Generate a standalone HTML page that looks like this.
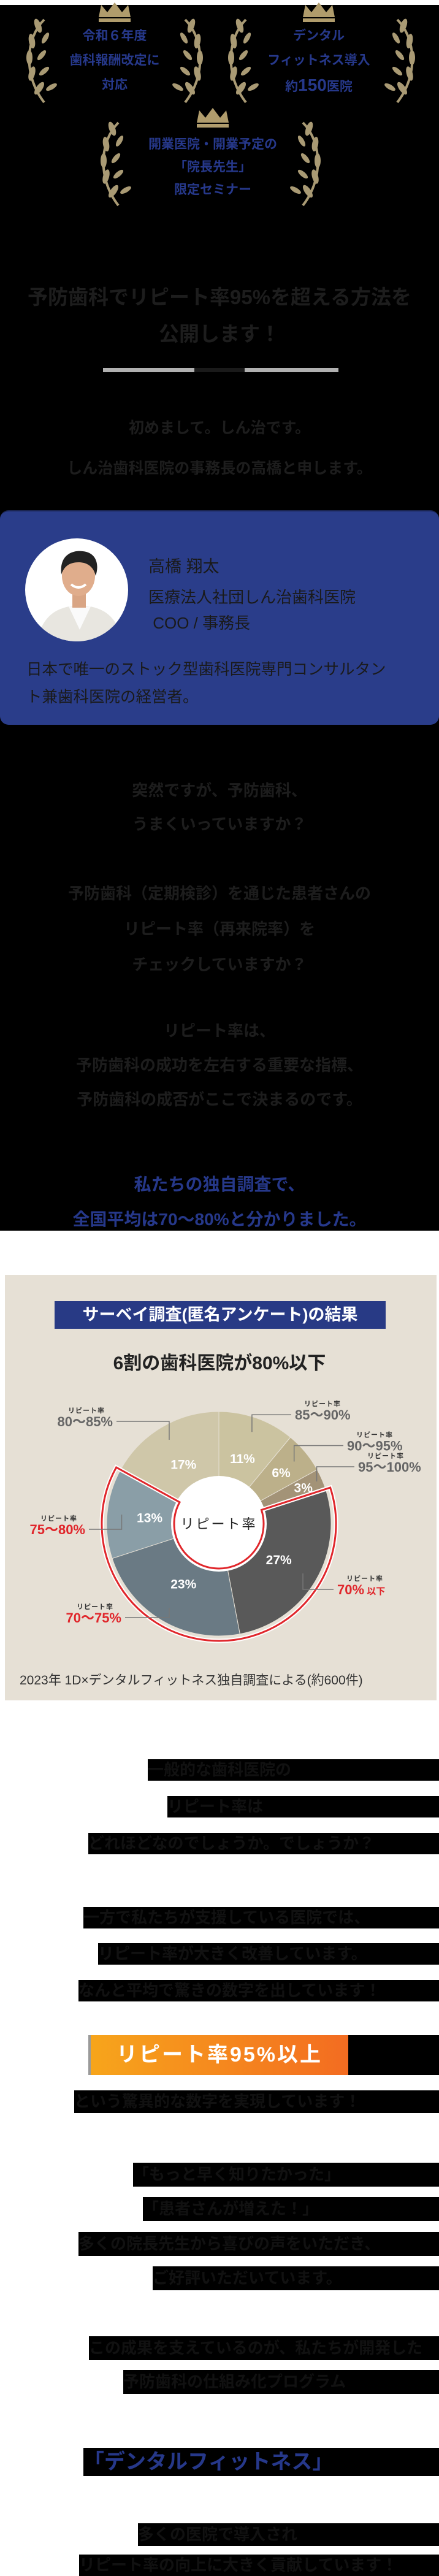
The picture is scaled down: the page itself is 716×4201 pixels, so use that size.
<!DOCTYPE html>
<html lang="ja">
<head>
<meta charset="utf-8">
<style>
html,body{margin:0;padding:0;}
body{width:716px;height:4201px;position:relative;background:#000;overflow:hidden;
font-family:"Liberation Sans","Noto Sans CJK JP",sans-serif;}
.abs{position:absolute;}
.c{position:absolute;left:0;width:716px;text-align:center;white-space:nowrap;}
.dk{color:#1d1d1d;font-weight:bold;}
.badge{position:absolute;color:#26388a;font-weight:bold;text-align:center;white-space:nowrap;font-size:21px;line-height:40px;}
.bar{position:absolute;right:0;background:#000;color:#111;font-weight:bold;font-size:26px;white-space:nowrap;overflow:hidden;}
</style>
</head>
<body>
<div class="abs" style="left:0;top:0;width:716px;height:8px;background:#fff;"></div>

<svg class="abs" style="left:0;top:0" width="716" height="360" viewBox="0 0 716 360">
  <defs>
    <g id="laurelL">
      <path d="M40 0 C10 30 5 90 40 135" stroke="#a99a74" stroke-width="4" fill="none"/>
      <g fill="#a99a74">
        <ellipse cx="30" cy="10" rx="5" ry="12" transform="rotate(-20 30 10)"/>
        <ellipse cx="20" cy="35" rx="5" ry="12" transform="rotate(-10 20 35)"/>
        <ellipse cx="16" cy="62" rx="5" ry="12"/>
        <ellipse cx="20" cy="88" rx="5" ry="12" transform="rotate(15 20 88)"/>
        <ellipse cx="32" cy="112" rx="5" ry="12" transform="rotate(35 32 112)"/>
        <ellipse cx="42" cy="30" rx="4" ry="10" transform="rotate(30 42 30)"/>
        <ellipse cx="36" cy="58" rx="4" ry="10" transform="rotate(40 36 58)"/>
        <ellipse cx="40" cy="84" rx="4" ry="10" transform="rotate(50 40 84)"/>
        <ellipse cx="52" cy="110" rx="4" ry="10" transform="rotate(60 52 110)"/>
      </g>
    </g>
    <g id="crown">
      <path d="M0 24 L4 4 L14 16 L26 0 L38 16 L48 4 L52 24 Z" fill="#b09c6c"/>
      <rect x="0" y="26" width="52" height="6" fill="#b09c6c"/>
    </g>
  </defs>
  <use href="#laurelL" transform="translate(32,32)"/>
  <use href="#laurelL" transform="translate(342,32) scale(-1,1)"/>
  <use href="#crown" transform="translate(161,4)"/>
  <use href="#laurelL" transform="translate(361,32)"/>
  <use href="#laurelL" transform="translate(688,32) scale(-1,1)"/>
  <use href="#crown" transform="translate(494,4)"/>
  <use href="#laurelL" transform="translate(153,200)"/>
  <use href="#laurelL" transform="translate(534,200) scale(-1,1)"/>
  <use href="#crown" transform="translate(321,176)"/>
</svg>
<div class="badge" style="left:87px;width:200px;top:39px;">令和６年度<br>歯科報酬改定に<br>対応</div>
<div class="badge" style="left:410px;width:220px;top:39px;">デンタル<br>フィットネス導入<br>約<span style="font-size:28px">150</span>医院</div>
<div class="badge" style="left:207px;width:280px;top:217px;line-height:37px;">開業医院・開業予定の<br>「院長先生」<br>限定セミナー</div>

<div class="c dk" style="top:455px;font-size:33px;line-height:60px;">予防歯科でリピート率95%を超える方法を<br>公開します！</div>
<div class="abs" style="left:168px;top:600px;width:384px;height:7px;background:#b0b0b0;"></div>
<div class="abs" style="left:317px;top:600px;width:82px;height:7px;background:#1a1a1a;"></div>

<div class="c dk" style="top:665px;font-size:25px;line-height:66px;">初めまして。しん治です。<br>しん治歯科医院の事務長の高橋と申します。</div>

<div class="abs" style="left:0;top:832px;width:716px;height:350px;background:#2a3d8a;border-radius:14px;border-top:2px solid #1a2450;box-sizing:border-box;">
  <svg class="abs" style="left:40px;top:43px" width="170" height="170" viewBox="0 0 170 170">
    <clipPath id="pc"><circle cx="85" cy="85" r="84"/></clipPath>
    <circle cx="85" cy="85" r="84" fill="#fff"/>
    <g clip-path="url(#pc)">
      <path d="M20 170 C30 120 60 112 90 110 C120 112 150 120 160 170 Z" fill="#e8e6e0"/>
      <path d="M72 112 L90 150 L108 112 Z" fill="#fafafa"/>
      <rect x="78" y="88" width="22" height="26" fill="#d9a584"/>
      <ellipse cx="88" cy="62" rx="27" ry="33" fill="#e0ad8c"/>
      <path d="M60 60 C56 25 82 20 95 22 C118 24 122 45 116 62 C112 45 100 40 88 40 C72 40 64 48 60 60 Z" fill="#222"/>
      <path d="M76 76 Q88 86 100 76" stroke="#fff" stroke-width="4" fill="none"/>
    </g>
  </svg>
  <div class="abs" style="left:242px;top:68px;font-size:27px;color:#1a1a1a;">高橋 翔太</div>
  <div class="abs" style="left:242px;top:119px;font-size:26px;line-height:42px;color:#1a1a1a;">医療法人社団しん治歯科医院<br>&nbsp;COO / 事務長</div>
  <div class="abs" style="left:43px;top:236px;font-size:25.5px;line-height:45px;color:#1a1a1a;white-space:nowrap;">日本で唯一のストック型歯科医院専門コンサルタン<br>ト兼歯科医院の経営者。</div>
</div>

<div class="c dk" style="top:1262px;font-size:26px;line-height:55px;">突然ですが、予防歯科、<br>うまくいっていますか？</div>
<div class="c dk" style="top:1428px;font-size:26px;line-height:58px;">予防歯科（定期検診）を通じた患者さんの<br>リピート率（再来院率）を<br>チェックしていますか？</div>
<div class="c dk" style="top:1653px;font-size:26px;line-height:56px;">リピート率は、<br>予防歯科の成功を左右する重要な指標、<br>予防歯科の成否がここで決まるのです。</div>
<div class="c" style="top:1903px;font-size:28px;line-height:57px;color:#26388a;font-weight:bold;">私たちの独自調査で、<br>全国平均は70〜80%と分かりました。</div>

<div class="abs" style="left:0;top:2007px;width:716px;height:2194px;background:#fff;"></div>

<div class="abs" style="left:8px;top:2079px;width:704px;height:694px;background:#e6e0d5;"></div>
<div class="abs" style="left:89px;top:2122px;width:540px;height:45px;background:#283a85;color:#fff;font-weight:bold;font-size:27px;line-height:45px;text-align:center;white-space:nowrap;">サーベイ調査(匿名アンケート)の結果</div>
<div class="c" style="top:2198px;font-size:30px;font-weight:bold;color:#222;">6割の歯科医院が80%以下</div>

<svg id="chart" class="abs" style="left:0;top:2250px" width="716" height="470" viewBox="0 2250 716 470"></svg>

<div class="abs" style="left:32px;top:2724px;font-size:21px;color:#333;white-space:nowrap;">2023年 1D×デンタルフィットネス独自調査による(約600件)</div>

<div class="bar" style="left:241px;top:2869px;height:35px;line-height:35px;">一般的な歯科医院の</div>
<div class="bar" style="left:273px;top:2929px;height:35px;line-height:35px;">リピート率は</div>
<div class="bar" style="left:144px;top:2989px;height:35px;line-height:35px;">どれほどなのでしょうか。でしょうか？</div>
<div class="bar" style="left:136px;top:3110px;height:35px;line-height:35px;">一方で私たちが支援している医院では、</div>
<div class="bar" style="left:160px;top:3169px;height:35px;line-height:35px;">リピート率が大きく改善しています。</div>
<div class="bar" style="left:128px;top:3229px;height:35px;line-height:35px;">なんと平均で驚きの数字を出しています！</div>

<div class="abs" style="left:144px;top:3319px;width:424px;height:65px;background:linear-gradient(90deg,#f7a51b,#f36c21);border-left:4px solid #9a9a9a;box-sizing:border-box;color:#fff;font-weight:bold;font-size:34px;line-height:65px;text-align:center;white-space:nowrap;letter-spacing:3px;">リピート率95%以上</div>
<div class="abs" style="left:568px;top:3319px;width:148px;height:65px;background:#000;"></div>

<div class="bar" style="left:121px;top:3409px;height:37px;line-height:37px;">という驚異的な数字を実現しています！</div>
<div class="bar" style="left:217px;top:3527px;height:39px;line-height:39px;">「もっと早く知りたかった」</div>
<div class="bar" style="left:233px;top:3583px;height:39px;line-height:39px;">「患者さんが増えた！」</div>
<div class="bar" style="left:128px;top:3640px;height:39px;line-height:39px;">多くの院長先生から喜びの声をいただき、</div>
<div class="bar" style="left:249px;top:3696px;height:39px;line-height:39px;">ご好評いただいています。</div>
<div class="bar" style="left:145px;top:3810px;height:39px;line-height:39px;">この成果を支えているのが、私たちが開発した</div>
<div class="bar" style="left:201px;top:3865px;height:39px;line-height:39px;">予防歯科の仕組み化プログラム</div>
<div class="bar" style="left:136px;top:3992px;height:46px;line-height:46px;color:#26388a;font-size:34px;">「デンタルフィットネス」</div>
<div class="bar" style="left:225px;top:4115px;height:37px;line-height:37px;">多くの医院で導入され</div>
<div class="bar" style="left:129px;top:4166px;height:35px;line-height:35px;">リピート率の向上に大きく貢献しています！</div>

<script>
const categories = ["85〜90%","90〜95%","95〜100%","70%","70〜75%","75〜80%","80〜85%"];
const values = [11, 6, 3, 27, 23, 13, 17];
const highlighted = [false, false, false, true, true, true, false];
const suffixes = ["","","","以下","","",""];

const sliceColors = ["#cbc3a0","#bcb08a","#a39377","#595959","#6a7a84","#8a9ea7","#cfc7a9"];
const calloutLayout = [
  {r:0.87, dy:-28, end:475, side:1},
  {r:0.87, dy:-26, end:560, side:1},
  {r:0.95, dy:-24, end:578, side:1},
  {r:0.87, dy:26,  end:544, side:1},
  {r:0.87, dy:16,  end:204, side:-1},
  {r:0.87, dy:24,  end:145, side:-1},
  {r:0.87, dy:-30, end:190, side:-1}
];
const cx = 357, cy = 2485, R = 183, r0 = 78;
const NS = "http://www.w3.org/2000/svg";
const svg = document.getElementById("chart");
const total = values.reduce((a,b)=>a+b,0);
function angle(v){ return v/total*2*Math.PI; }
function pt(a, rad){ return [cx + rad*Math.sin(a), cy - rad*Math.cos(a)]; }
function mk(tag, attrs){ const e=document.createElementNS(NS,tag); for(const k in attrs) e.setAttribute(k,attrs[k]); svg.appendChild(e); return e; }

let acc = 0;
const starts = [];
values.forEach((v,i)=>{
  const a0 = angle(acc), a1 = angle(acc+v);
  starts.push([a0,a1]);
  const [x0,y0]=pt(a0,R),[x1,y1]=pt(a1,R);
  const large = (a1-a0)>Math.PI?1:0;
  const p = mk("path",{d:`M${cx} ${cy} L${x0} ${y0} A${R} ${R} 0 ${large} 1 ${x1} ${y1} Z`, fill:sliceColors[i], stroke:"#e6e0d5", "stroke-width":1});
  
  
  acc += v;
});
// highlight outline
const hi = starts.filter((s,i)=>highlighted[i]);
const ha0 = hi[0][0], ha1 = hi[hi.length-1][1];
const Ro = R+8, Ri = 73;
const [ox0,oy0]=pt(ha0,Ro),[ox1,oy1]=pt(ha1,Ro),[ix1,iy1]=pt(ha1,Ri),[ix0,iy0]=pt(ha0,Ri);
const lg = (ha1-ha0)>Math.PI?1:0;
const dOut = `M${ix0} ${iy0} L${ox0} ${oy0} A${Ro} ${Ro} 0 ${lg} 1 ${ox1} ${oy1} L${ix1} ${iy1} A${Ri} ${Ri} 0 ${lg} 0 ${ix0} ${iy0} Z`;
const hw = mk("path",{d:dOut, fill:"none", stroke:"#fff", "stroke-width":7});


const hole = mk("circle",{cx:cx, cy:cy, r:r0, fill:"#fff"});


const hr = mk("path",{d:dOut, fill:"none", stroke:"#e0262b", "stroke-width":3});


const ct = mk("text",{x:cx, y:cy+8, "text-anchor":"middle", "font-size":22, fill:"#222", "letter-spacing":3});


ct.textContent = "リピート率";

values.forEach((v,i)=>{
  const [a0,a1]=starts[i], am=(a0+a1)/2;
  const lr = v<5 ? R*0.82 : (v<8 ? R*0.72 : R*0.62);
  const [tx,ty]=pt(am, lr);
  const t = mk("text",{x:tx, y:ty+8, "text-anchor":"middle", "font-size":21, fill:"#fff", "font-weight":"bold"});
  
  
  t.textContent = v + "%";
  // callout
  const L = calloutLayout[i];
  const [ax,ay]=pt(am, R*L.r);
  const ly = ay + L.dy;
  const ln = mk("polyline",{points:`${ax},${ay} ${ax},${ly} ${L.end},${ly}`, fill:"none", stroke:"#777", "stroke-width":1.5});
  
  
  const col = highlighted[i] ? "#e0262b" : "#666";
  const lx = L.side>0 ? L.end+6 : L.end-6;
  const anchor = L.side>0 ? "start" : "end";
  const vt = mk("text",{x:lx, y:ly+8, "text-anchor":anchor, "font-size":22, fill:col, "font-weight":"bold"});
  
  
  vt.textContent = categories[i];
  if(suffixes[i]){ const s=document.createElementNS(NS,"tspan"); s.setAttribute("font-size","15"); s.textContent=" "+suffixes[i]; vt.appendChild(s); }
  const cxl = L.side>0 ? lx + 45 : lx - 43;
  const lt = mk("text",{x:cxl, y:ly-14, "text-anchor":"middle", "font-size":11, fill:"#333", "font-weight":"bold", "letter-spacing":1});
  
  
  lt.textContent = "リピート率";
});
</script>
</body>
</html>
